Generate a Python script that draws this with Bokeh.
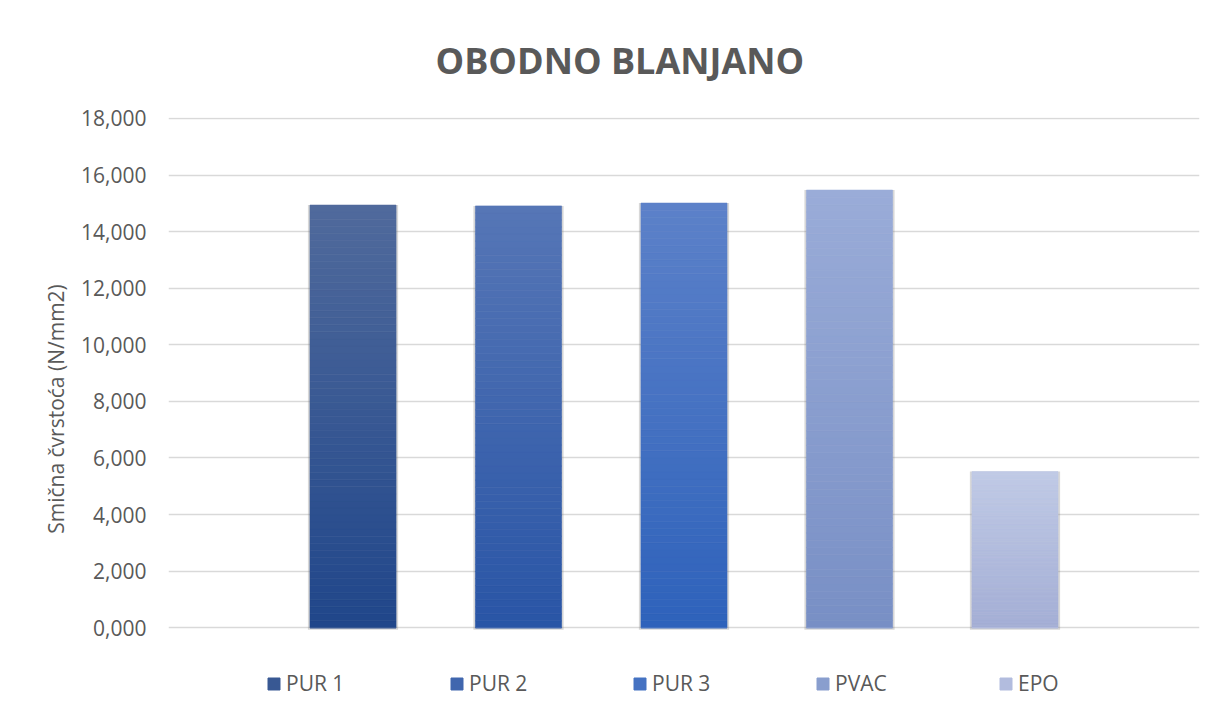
from bokeh.plotting import figure
from bokeh.models import (FactorRange, Range1d, FixedTicker, CustomJSTickFormatter,
                          Legend, LegendItem, ColumnDataSource)
from bokeh.embed import file_html
from bokeh.resources import INLINE

# ---- data ----
title_text = "OBODNO BLANJANO"
y_label = "Smična čvrstoća (N/mm2)"
series = ["PUR 1", "PUR 2", "PUR 3", "PVAC", "EPO"]
values = [14.94, 14.91, 15.01, 15.47, 5.52]
top_colors = ["#506A9C", "#5676B6", "#5C81C9", "#9AACD8", "#C0CAE6"]
bottom_colors = ["#20468A", "#2955A6", "#2E62BB", "#788FC5", "#A4AED5"]
y_ticks = [0, 2, 4, 6, 8, 10, 12, 14, 16, 18]
y_max = 18

FONT = "Open Sans"
GREY = "#595959"

# layout (pixels): frame spans 115..700, top tick drawn 1px inside the frame,
# value 0 sits at 627 (legend drawn in the space below 0)
FRAME_TOP, TOP_TICK_PX, ZERO_PX, FRAME_BOTTOM = 115, 116, 627, 700
px_per_unit = (ZERO_PX - TOP_TICK_PX) / y_max
y_start = -(FRAME_BOTTOM - ZERO_PX) / px_per_unit
y_end = y_max + (TOP_TICK_PX - FRAME_TOP) / px_per_unit


def hex_to_rgb(h):
    h = h.lstrip("#")
    return tuple(int(h[i:i + 2], 16) for i in (0, 2, 4))


def mix(c1, c2, t):
    a, b = hex_to_rgb(c1), hex_to_rgb(c2)
    return "#%02x%02x%02x" % tuple(round(a[i] + (b[i] - a[i]) * t) for i in range(3))


W, H = 1209, 702
p = figure(width=W, height=H, output_backend="svg", toolbar_location=None,
           x_range=FactorRange(factors=series, range_padding=0.246),
           y_range=Range1d(y_start, y_end),
           min_border_left=168, min_border_right=10,
           min_border_top=FRAME_TOP, min_border_bottom=H - FRAME_BOTTOM)

p.title.text = title_text
p.title.align = "left"
p.title.offset = 267
p.title.text_font = FONT
p.title.text_font_size = "36px"
p.title.text_font_style = "bold"
p.title.text_color = GREY
p.title.text_line_height = 0.85
p.title.standoff = 66

p.outline_line_color = None
p.xgrid.visible = False
p.ygrid.grid_line_color = "#D9D9D9"
p.ygrid.grid_line_width = 1.5
p.ygrid.ticker = FixedTicker(ticks=y_ticks)
p.xaxis.visible = False

ax = p.yaxis[0]
ax.ticker = FixedTicker(ticks=y_ticks)
ax.formatter = CustomJSTickFormatter(code="return tick.toFixed(3).replace('.', ',');")
ax.axis_line_color = None
ax.major_tick_line_color = None
ax.minor_tick_line_color = None
ax.major_tick_out = 0
ax.major_label_standoff = 22
ax.major_label_text_font = FONT
ax.major_label_text_font_size = "21px"
ax.major_label_text_color = GREY
ax.axis_label = y_label
ax.axis_label_text_font = FONT
ax.axis_label_text_font_size = "21px"
ax.axis_label_text_font_style = "normal"
ax.axis_label_text_color = GREY
ax.axis_label_standoff = 8

BAR_W = 0.52
N = 60

# soft shadow under each bar
p.vbar(x=series, top=values, bottom=[-0.07] * len(values), width=BAR_W + 0.025,
       fill_color="#7f7f7f", fill_alpha=0.3, line_color=None)

legend_items = []
for s, v, ct, cb in zip(series, values, top_colors, bottom_colors):
    xs, bots, tops, cols = [], [], [], []
    for k in range(N):
        xs.append(s)
        bots.append(v * k / N)
        tops.append(v * (k + 1) / N)
        cols.append(mix(cb, ct, (k + 0.5) / N))
    src = ColumnDataSource(dict(x=xs, bottom=bots, top=tops, color=cols))
    p.vbar(x="x", bottom="bottom", top="top", width=BAR_W, source=src,
           fill_color="color", line_color="color", line_width=0.6)
    mid = mix(cb, ct, 0.5)
    r = p.vbar(x=[s], top=[0], bottom=[0], width=BAR_W, fill_color=mid, line_color=mid)
    legend_items.append(LegendItem(label=s, renderers=[r]))

legend = Legend(items=legend_items, orientation="horizontal",
                location=(98, 3), padding=0, margin=0, spacing=63,
                glyph_width=15, glyph_height=15, label_standoff=5, label_width=100,
                label_text_font=FONT, label_text_font_size="21px",
                label_text_color=GREY, background_fill_alpha=0, border_line_color=None)
p.add_layout(legend, "center")

open("out.html", "w").write(file_html(p, INLINE))
